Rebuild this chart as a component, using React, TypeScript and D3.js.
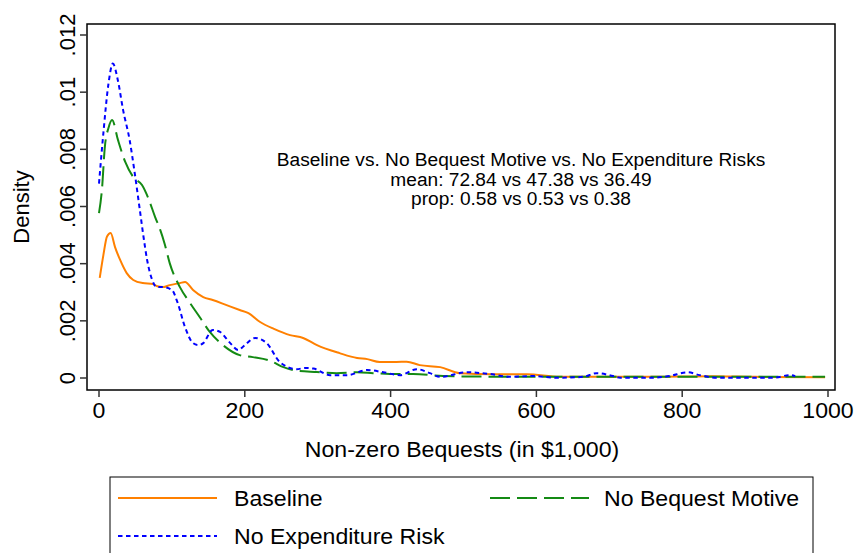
import React from "react";
import * as d3 from "d3";

const W = 855;
const H = 553;

const xTicks = [0, 200, 400, 600, 800, 1000];
const yTicks = [0, 0.002, 0.004, 0.006, 0.008, 0.01, 0.012];
const yTickLabels = ["0", ".002", ".004", ".006", ".008", ".01", ".012"];

const seriesNames = ["Baseline", "No Bequest Motive", "No Expenditure Risk"];
const seriesColors = ["#ff8000", "#148a14", "#0000ff"];
const seriesDash = ["none", "20 7", "4.5 3.5"];

const baselineX = [1, 6, 11, 16, 22, 29, 38, 47, 60, 74, 79, 88, 97, 111, 118, 129, 143, 156, 175, 193, 205, 221, 240, 262, 280, 299, 330, 354, 368, 385, 408, 422, 440, 468, 495, 541, 587, 632, 700, 760, 840, 900, 996];
const baselineY = [0.0035, 0.0043, 0.00495, 0.00507, 0.00458, 0.00413, 0.00367, 0.00343, 0.00332, 0.00329, 0.00322, 0.00318, 0.00325, 0.00332, 0.00336, 0.00308, 0.00283, 0.00273, 0.00255, 0.00238, 0.00227, 0.00196, 0.00172, 0.0015, 0.0014, 0.00115, 0.00087, 0.0007, 0.00066, 0.00056, 0.00056, 0.00057, 0.00045, 0.00038, 0.00017, 0.00013, 0.00013, 0.00004, 0.00004, 0.00004, 0.00006, 0.00004, 0.00003];

const noBequestX = [0, 4, 8, 13, 18, 26, 36, 47, 59, 67, 77, 84, 90, 97, 111, 125, 139, 152, 170, 193, 211, 235, 253, 272, 299, 326, 354, 376, 399, 431, 472, 520, 600, 700, 800, 900, 996];
const noBequestY = [0.00577, 0.00658, 0.00808, 0.00875, 0.00903, 0.00833, 0.00756, 0.00703, 0.00675, 0.00633, 0.00563, 0.00518, 0.0047, 0.00402, 0.00318, 0.00262, 0.0021, 0.00161, 0.00115, 0.0008, 0.00073, 0.0006, 0.00038, 0.00025, 0.00021, 0.00017, 0.0002, 0.00017, 0.00014, 0.00014, 0.00007, 0.00005, 0.00004, 0.00004, 0.00004, 0.00004, 0.00004];

const noRiskX = [0, 6, 13, 19, 26, 33, 42, 49, 56, 61, 66, 73, 79, 88, 100, 108, 118, 129, 136, 143, 156, 166, 180, 191, 200, 214, 230, 248, 271, 283, 294, 317, 340, 368, 390, 413, 436, 454, 468, 505, 536, 564, 595, 628, 664, 683, 705, 715, 756, 783, 807, 824, 848, 893, 925, 948, 955];
const noRiskY = [0.0068, 0.00857, 0.0103, 0.011, 0.0104, 0.00938, 0.00833, 0.00717, 0.00588, 0.00495, 0.00413, 0.00343, 0.00318, 0.00318, 0.00308, 0.00262, 0.00178, 0.00122, 0.00115, 0.00122, 0.00168, 0.00161, 0.00122, 0.00098, 0.00115, 0.0014, 0.00122, 0.00056, 0.00031, 0.00035, 0.00033, 0.0001, 0.0001, 0.00028, 0.0002, 0.0001, 0.00031, 0.00017, 0.00004, 0.0002, 0.00014, 0.00004, 0.00007, 0.00001, 0.00004, 0.00017, 0.00007, 0.00001, 0.00001, 0.00007, 0.0002, 0.0001, 0.00001, 0.00001, 0.00001, 0.0001, 0.00006];

const annotationLines = [
  "Baseline vs. No Bequest Motive vs. No Expenditure Risks",
  "mean: 72.84 vs 47.38 vs 36.49",
  "prop: 0.58 vs 0.53 vs 0.38",
];
const xTitle = "Non-zero Bequests (in $1,000)";
const yTitle = "Density";

const FONT = "'Liberation Sans', Arial, Helvetica, sans-serif";
const SX = 1.05;

export default function App() {
  const frame = { left: 87, right: 835, top: 24, bottom: 390 };
  const x = d3.scaleLinear().domain([0, 1000]).range([99, 828]);
  const y = d3.scaleLinear().domain([0, 0.012]).range([378, 35]);

  const line = d3
    .line<[number, number]>()
    .x((d) => x(d[0]))
    .y((d) => y(d[1]))
    .curve(d3.curveMonotoneX);

  const series = [
    d3.zip(baselineX, baselineY) as [number, number][],
    d3.zip(noBequestX, noBequestY) as [number, number][],
    d3.zip(noRiskX, noRiskY) as [number, number][],
  ];

  const T = (props: { x: number; y: number; size: number; anchor?: string; children: React.ReactNode }) => (
    <text
      transform={`translate(${props.x},${props.y}) scale(${SX},1)`}
      fontSize={props.size}
      textAnchor={props.anchor || "start"}
      fontFamily={FONT}
      fill="#000"
    >
      {props.children}
    </text>
  );

  const legendItems = [
    { i: 0, lx: 118, ly: 498, tx: 234 },
    { i: 1, lx: 490, ly: 498, tx: 604 },
    { i: 2, lx: 118, ly: 536, tx: 234 },
  ];

  return (
    <svg
      width={W}
      height={H}
      style={{ position: "absolute", left: 0, top: 0, background: "#fff" }}
    >
      <rect x={0} y={0} width={W} height={H} fill="#fff" />
      {series.map((s, i) => (
        <path
          key={i}
          d={line(s) || ""}
          fill="none"
          stroke={seriesColors[i]}
          strokeWidth={2}
          strokeDasharray={seriesDash[i]}
        />
      ))}
      <rect
        x={frame.left}
        y={frame.top}
        width={frame.right - frame.left}
        height={frame.bottom - frame.top}
        fill="none"
        stroke="#000"
        strokeWidth={1.5}
      />
      {yTicks.map((t, i) => (
        <g key={i}>
          <line x1={frame.left - 7} x2={frame.left} y1={y(t)} y2={y(t)} stroke="#333" strokeWidth={1.5} />
          <text
            transform={`translate(75,${y(t)}) rotate(-90)`}
            fontSize={22}
            textAnchor="middle"
            fontFamily={FONT}
          >
            {yTickLabels[i]}
          </text>
        </g>
      ))}
      {xTicks.map((t, i) => (
        <g key={i}>
          <line x1={x(t)} x2={x(t)} y1={frame.bottom} y2={frame.bottom + 7} stroke="#333" strokeWidth={1.5} />
          <T x={x(t)} y={418} size={22} anchor="middle">
            {String(t)}
          </T>
        </g>
      ))}
      <T x={462} y={457} size={22} anchor="middle">
        {xTitle}
      </T>
      <text
        transform={`translate(29,207) rotate(-90)`}
        fontSize={22}
        textAnchor="middle"
        fontFamily={FONT}
      >
        {yTitle}
      </text>
      {annotationLines.map((l, i) => (
        <T key={i} x={521} y={166 + i * 19.5} size={18.2} anchor="middle">
          {l}
        </T>
      ))}
      <rect x={110} y={477} width={703} height={90} fill="#fff" stroke="#000" strokeWidth={1} />
      {legendItems.map((it) => (
        <g key={it.i}>
          <line
            x1={it.lx}
            x2={it.lx + 99}
            y1={it.ly}
            y2={it.ly}
            stroke={seriesColors[it.i]}
            strokeWidth={2}
            strokeDasharray={seriesDash[it.i]}
          />
          <T x={it.tx} y={it.ly + 8} size={22}>
            {seriesNames[it.i]}
          </T>
        </g>
      ))}
    </svg>
  );
}
